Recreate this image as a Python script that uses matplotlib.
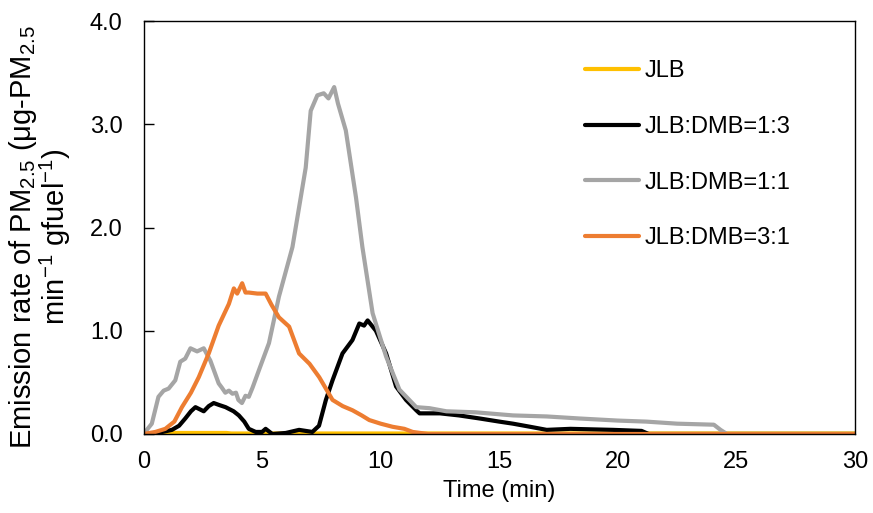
import matplotlib
matplotlib.use("Agg")
import matplotlib.pyplot as plt

plt.rcParams['font.family'] = ['Liberation Sans', 'DejaVu Sans']
plt.rcParams['mathtext.fontset'] = 'custom'
plt.rcParams['mathtext.rm'] = 'Liberation Sans'
plt.rcParams['mathtext.it'] = 'Liberation Sans:italic'

series_names = ["JLB", "JLB:DMB=1:3", "JLB:DMB=1:1", "JLB:DMB=3:1"]
colors = ["#FFC000", "#000000", "#A5A5A5", "#ED7D31"]

t_jlb = [0, 0.5, 1.0, 2.0, 3.5, 3.7, 5.0, 8.0, 11.0, 30]
v_jlb = [0, 0.01, 0.01, 0.01, 0.01, 0.005, 0.005, 0.005, 0.005, 0.005]

t_13 = [0, 0.35, 0.8, 1.2, 1.5, 1.76, 2.0, 2.19, 2.54, 2.75, 2.96, 3.2, 3.46, 3.8,
        4.02, 4.25, 4.44, 4.73, 5.0, 5.15, 5.43, 6.0, 6.56, 7.12, 7.4, 7.69, 7.97,
        8.39, 8.81, 9.1, 9.3, 9.45, 9.8, 10.23, 10.65, 11.07, 11.5, 11.64, 12.5,
        13.3, 14.18, 15.0, 15.58, 16.3, 17.0, 18.0, 19.8, 21.0, 21.3, 30]
v_13 = [0, 0, 0.02, 0.04, 0.08, 0.15, 0.22, 0.26, 0.22, 0.27, 0.30, 0.28, 0.26, 0.22,
        0.18, 0.12, 0.05, 0.02, 0.02, 0.05, 0.0, 0.01, 0.04, 0.02, 0.08, 0.33, 0.52,
        0.78, 0.91, 1.07, 1.05, 1.10, 1.0, 0.78, 0.46, 0.33, 0.23, 0.20, 0.20,
        0.18, 0.15, 0.12, 0.10, 0.07, 0.04, 0.05, 0.04, 0.03, 0.0, 0.0]

t_11 = [0, 0.35, 0.63, 0.85, 1.06, 1.34, 1.55, 1.76, 1.98, 2.26, 2.54, 2.82, 3.17,
        3.3, 3.45, 3.6, 3.75, 3.9, 4.0, 4.15, 4.3, 4.44, 4.6, 4.87, 5.29, 5.71,
        6.28, 6.84, 7.05, 7.33, 7.6, 7.8, 8.04, 8.2, 8.53, 8.96, 9.23, 9.66,
        10.23, 10.79, 11.5, 12.06, 12.77, 14.0, 15.58, 17.0, 18.4, 20.0, 21.2,
        22.5, 24.05, 24.33, 24.6, 30]
v_11 = [0, 0.10, 0.36, 0.42, 0.44, 0.52, 0.70, 0.73, 0.83, 0.80, 0.83, 0.71, 0.49,
        0.45, 0.40, 0.42, 0.39, 0.40, 0.33, 0.30, 0.37, 0.36, 0.45, 0.62, 0.88, 1.33,
        1.81, 2.58, 3.13, 3.28, 3.30, 3.25, 3.36, 3.20, 2.94, 2.29, 1.81, 1.17,
        0.75, 0.43, 0.26, 0.25, 0.22, 0.21, 0.18, 0.17, 0.15, 0.13, 0.12,
        0.10, 0.09, 0.04, 0.0, 0.0]

t_31 = [0, 0.5, 0.92, 1.3, 1.62, 2.0, 2.33, 2.75, 3.17, 3.6, 3.81, 3.95, 4.16, 4.3,
        4.44, 4.8, 5.15, 5.4, 5.71, 6.14, 6.56, 7.0, 7.41, 7.97, 8.4, 8.81, 9.2,
        9.52, 10.0, 10.5, 11.0, 11.35, 12.0, 30]
v_31 = [0, 0.02, 0.05, 0.12, 0.26, 0.40, 0.55, 0.78, 1.05, 1.26, 1.41, 1.36, 1.46, 1.37,
        1.37, 1.36, 1.36, 1.25, 1.13, 1.04, 0.78, 0.68, 0.55, 0.33, 0.27, 0.23, 0.18,
        0.135, 0.10, 0.07, 0.05, 0.02, 0.0, 0.0]

x_ticks = [0, 5, 10, 15, 20, 25, 30]
y_ticks = [0.0, 1.0, 2.0, 3.0, 4.0]
y_tick_labels = ["0.0", "1.0", "2.0", "3.0", "4.0"]

FS = 17

fig = plt.figure(figsize=(8.73, 5.13), dpi=100)
ax = fig.add_axes([143.5 / 873, 79 / 513, (855 - 143.5) / 873, (434 - 21) / 513])

data = [(t_jlb, v_jlb), (t_13, v_13), (t_11, v_11), (t_31, v_31)]
for (t, v), name, c in zip(data, series_names, colors):
    ax.plot(t, v, color=c, lw=3.0, label=name, solid_joinstyle='round', solid_capstyle='round')

ax.set_xlim(0, 30)
ax.set_ylim(0, 4.0)
ax.set_xticks(x_ticks)
ax.set_xticklabels([str(x) for x in x_ticks])
ax.set_yticks(y_ticks)
ax.set_yticklabels(y_tick_labels)
ax.tick_params(axis='x', length=0, labelsize=FS, pad=12)
ax.tick_params(axis='y', direction='in', length=7, width=1, labelsize=FS, pad=15)
for s in ax.spines.values():
    s.set_linewidth(1.0)
    s.set_color('black')

ax.set_xlabel("Time (min)", fontsize=FS, labelpad=5)
ax.set_ylabel("Emission rate of PM$_{2.5}$ (μg-PM$_{2.5}$\nmin$^{-1}$ gfuel$^{-1}$)",
              fontsize=21, multialignment='center', linespacing=0.95)
ax.yaxis.set_label_coords(-0.099, 0.477)

leg = ax.legend(loc='upper left', bbox_to_anchor=(0.607, 0.928), frameon=False,
                fontsize=FS, handlelength=2.3, handletextpad=0.25, labelspacing=1.43,
                borderaxespad=0)
for line in leg.get_lines():
    line.set_linewidth(3)

fig.savefig("out.png", dpi=100)
